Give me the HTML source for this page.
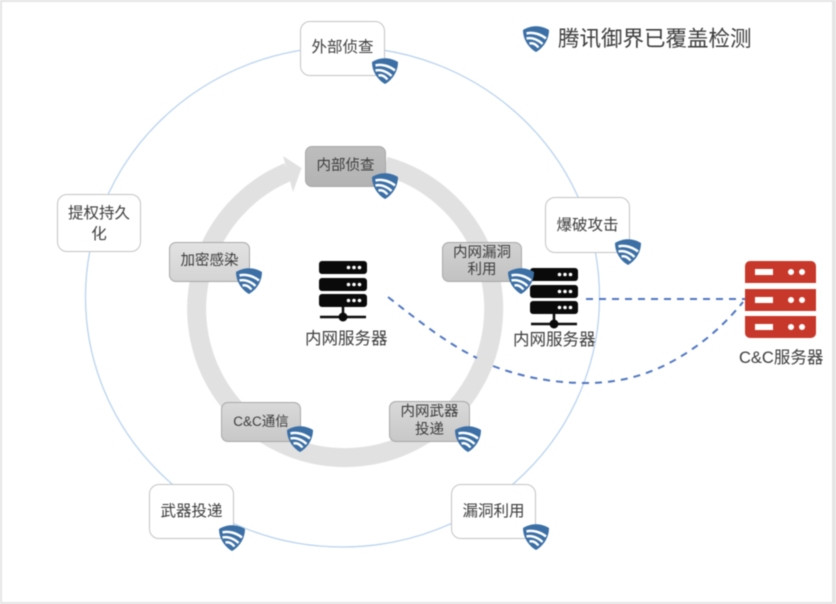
<!DOCTYPE html>
<html lang="zh"><head><meta charset="utf-8"><title>Diagram</title>
<style>
html,body{margin:0;padding:0;background:#fff}
#c{position:relative;width:836px;height:604px;overflow:hidden;background:#fff;font-family:"Liberation Sans","Noto Sans CJK SC",sans-serif;color:#3c3c3c}
#w{position:absolute;left:0;top:0;width:836px;height:604px;filter:blur(.45px)}
#f{position:absolute;left:0;top:0;width:830px;height:600px;border:solid #e4e4e4;border-width:2px 4px 2px 2px}
svg{position:absolute;left:0;top:0}
.n{position:absolute;box-sizing:border-box;display:flex;align-items:center;justify-content:center;text-align:center;border-radius:10px;background:#fff;border:1px solid #c4c4c4;font-size:15.5px;line-height:21px}
.g{border:1px solid #a8a8a8;border-radius:7px;font-size:14.5px;line-height:17.500px;background:linear-gradient(#d9d9d9,#c8c8c8)}
.t{position:absolute;white-space:nowrap;font-size:16.500px;line-height:20px;text-align:center}
</style></head><body><div id="c"><div id="w"><div id="f"></div>
<svg width="836" height="604" viewBox="0 0 836 604" xmlns="http://www.w3.org/2000/svg">
<defs>
<g id="sh"><path d="M-13-9C-5-14 5-14 13-9C13 1 7 9 0 13C-7 9-13 1-13-9Z" fill="#3b6fa5"/><path d="M-9.500-5.500C-3-7.500 5-4.500 10-.5M-9.500-.5C-4-2 2.500 1 6.500 5M-6.500 4.500C-3 3.500 0 5.500 2.500 8.500" fill="none" stroke="#fff" stroke-width="2.500"/></g>
<g id="bk"><rect x="0" y="0" width="48" height="13" rx="3" fill="#0a0a0a"/><rect x="0" y="17" width="48" height="13" rx="3" fill="#0a0a0a"/><rect x="0" y="33" width="48" height="13" rx="3" fill="#0a0a0a"/><g fill="#fff"><circle cx="29.500" cy="6.500" r="1.800"/><circle cx="35" cy="6.500" r="1.800"/><circle cx="40.500" cy="6.500" r="1.800"/><circle cx="29.500" cy="23.500" r="1.800"/><circle cx="35" cy="23.500" r="1.800"/><circle cx="40.500" cy="23.500" r="1.800"/><circle cx="29.500" cy="39.500" r="1.800"/><circle cx="35" cy="39.500" r="1.800"/><circle cx="40.500" cy="39.500" r="1.800"/></g><path d="M24 46V56M1 56H47" stroke="#0a0a0a" stroke-width="2.500" fill="none"/><circle cx="24" cy="56" r="4.500" fill="#0a0a0a"/></g>
</defs>
<ellipse cx="342.500" cy="297" rx="257" ry="250" fill="none" stroke="#b9d3ee" stroke-width="1.300"/>
<path d="M385 166A148.500 148.500 0 1 1 288 172" fill="none" stroke="#e1e1e1" stroke-width="19"/>
<path d="M283 156L301.500 168L293 192Z" fill="#e1e1e1"/>
<path d="M388 297C420 322 448 344 477 358" fill="none" stroke="#4f76c0" stroke-width="2" stroke-dasharray="7 6"/>
<path d="M493 366C525 378 555 383 587 383C625 383 655 372 680 357C705 342 725 324 743 302" fill="none" stroke="#4f76c0" stroke-width="2" stroke-dasharray="7 6"/>
<path d="M586 299H745" fill="none" stroke="#4f76c0" stroke-width="2" stroke-dasharray="7 6"/>
<use href="#bk" x="319" y="261"/>
<use href="#bk" x="530" y="268"/>
<g fill="#c8382a"><path d="M745 283V266a5 5 0 0 1 5-5h61a5 5 0 0 1 5 5v17Z"/><rect x="745" y="289" width="71" height="22"/><path d="M745 316h71v17a5 5 0 0 1-5 5h-61a5 5 0 0 1-5-5Z"/></g>
<g fill="#fff"><rect x="755" y="269" width="18" height="6"/><circle cx="791" cy="272" r="3"/><circle cx="802" cy="272" r="3"/><rect x="755" y="297" width="18" height="6"/><circle cx="791" cy="300" r="3"/><circle cx="802" cy="300" r="3"/><rect x="755" y="324" width="18" height="6"/><circle cx="791" cy="327" r="3"/><circle cx="802" cy="327" r="3"/></g>
</svg>
<div class="n" style="left:300px;top:21px;width:85px;height:55px;padding-bottom:3px">外部侦查</div>
<div class="n" style="left:545px;top:197px;width:85px;height:56px">爆破攻击</div>
<div class="n" style="left:57px;top:194px;width:84px;height:58px;padding:2px 6px 0">提权持久化</div>
<div class="n" style="left:451px;top:484px;width:85px;height:55px">漏洞利用</div>
<div class="n" style="left:149px;top:484px;width:85px;height:55px">武器投递</div>
<div class="n g" style="left:305px;top:146px;width:81px;height:41px;background:linear-gradient(#bdbdbd,#b3b3b3)">内部侦查</div>
<div class="n g" style="left:169px;top:242px;width:81px;height:40px;background:linear-gradient(#e2e2e2,#d4d4d4)">加密感染</div>
<div class="n g" style="left:442px;top:242px;width:80px;height:40px;background:linear-gradient(#d2d2d2,#c2c2c2)">内网漏洞<br>利用</div>
<div class="n g" style="left:389px;top:401px;width:81px;height:41px">内网武器<br>投递</div>
<div class="n g" style="left:221px;top:402px;width:80px;height:40px;font-size:13.500px">C&amp;C通信</div>
<svg width="836" height="604" viewBox="0 0 836 604" xmlns="http://www.w3.org/2000/svg">
<use href="#sh" x="385" y="71"/><use href="#sh" x="385" y="186"/><use href="#sh" x="628" y="252"/><use href="#sh" x="249" y="281"/><use href="#sh" x="521" y="281"/><use href="#sh" x="468" y="439"/><use href="#sh" x="300" y="439"/><use href="#sh" x="536" y="537"/><use href="#sh" x="232" y="538"/><use href="#sh" x="536" y="39"/>
</svg>
<div class="t" style="left:558px;top:26px;font-size:21.500px;line-height:26px">腾讯御界已覆盖检测</div>
<div class="t" style="left:305px;top:329px">内网服务器</div>
<div class="t" style="left:513px;top:330px">内网服务器</div>
<div class="t" style="left:739px;top:348px">C&amp;C服务器</div>
</div></div></body></html>
